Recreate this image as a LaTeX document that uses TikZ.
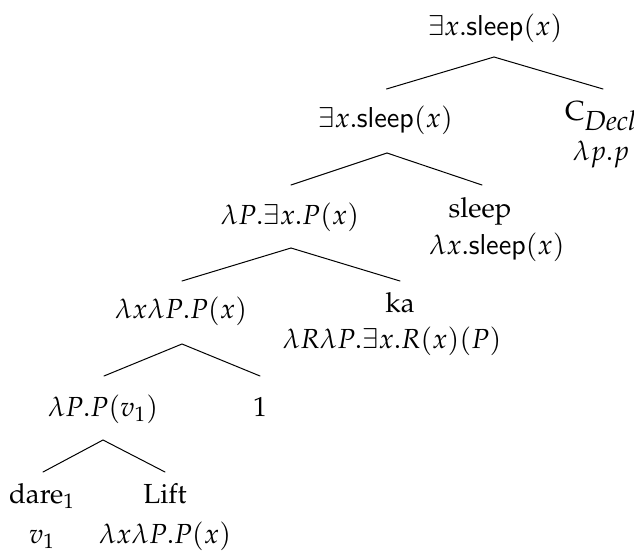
\documentclass[tikz,border=0pt]{standalone}
\usepackage[OT1]{fontenc}
\usepackage{mathpazo}
\renewcommand{\sfdefault}{cmss}
\usetikzlibrary{calc}
\begin{document}
\begin{tikzpicture}[x=0.5pt,y=-0.5pt,
  lbl/.style={inner sep=0pt, anchor=base, font=\fontsize{13.8}{16.5}\selectfont},
  branch/.style={line width=0.5pt, line cap=round}]
\useasboundingbox (0,0) rectangle (634,552);

% node labels (word / semantic value)
\node[lbl] (root)  at (495,35)  {$\exists x.\textsf{sleep}(x)$};
\node[lbl] (sA)    at (385.5,127) {$\exists x.\textsf{sleep}(x)$};
\node[lbl] (cdecl) at (601,120) {C$_{\textit{Decl}}$};
\node[lbl] (cdeclsem) at (601,160) {$\lambda p.p$};
\node[lbl] (sB)    at (290,224) {$\lambda P.\exists x.P(x)$};
\node[lbl] (sleep) at (480,217) {sleep};
\node[lbl] (sleepsem) at (497,254) {$\lambda x.\textsf{sleep}(x)$};
\node[lbl] (sC)    at (181,318) {$\lambda x\lambda P.P(x)$};
\node[lbl] (ka)    at (400,312) {ka};
\node[lbl] (kasem) at (392,348) {$\lambda R\lambda P.\exists x.R(x)(P)$};
\node[lbl] (sD)    at (103,416) {$\lambda P.P(v_1)$};
\node[lbl] (one)   at (260,416) {1};
\node[lbl] (dare)  at (42,503)  {dare$_1$};
\node[lbl] (daresem) at (42,543) {$v_1$};
\node[lbl] (lift)  at (165,503) {Lift};
\node[lbl] (liftsem) at (165,543) {$\lambda x\lambda P.P(x)$};

% branches
\draw[branch] ($(sA.base)+(1,-38)$) -- ($(root.base)+(-1,22)$) -- ($(cdecl.base)+(2,-31)$);
\draw[branch] ($(sB.base)+(1,-39)$) -- ($(sA.base)+(1.5,26)$) -- ($(sleep.base)+(2,-32)$);
\draw[branch] ($(sC.base)+(1,-37)$) -- ($(sB.base)+(1,24)$) -- ($(ka.base)+(0,-31)$);
\draw[branch] ($(sD.base)+(1,-40)$) -- ($(sC.base)+(1,26)$) -- ($(one.base)+(0,-40)$);
\draw[branch] ($(dare.base)+(1,-31)$) -- ($(sD.base)+(0,24)$) -- ($(lift.base)+(0,-31)$);
\end{tikzpicture}
\end{document}
